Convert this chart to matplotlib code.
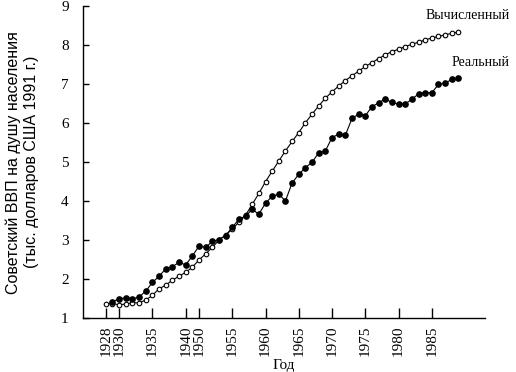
import numpy as np
import matplotlib
matplotlib.use("Agg")
import matplotlib.pyplot as plt

plt.rcParams['font.family'] = ['Liberation Serif', 'DejaVu Serif']

# years: 1928-1940, one war-time point, then 1950-1989
years_pre = list(range(1928, 1941))
years_post = list(range(1950, 1990))

# computed (open circles)
calc_years = years_pre + [1945] + years_post
calc_vals = [1.37, 1.38, 1.35, 1.37, 1.40, 1.40, 1.47, 1.59, 1.76, 1.85, 1.98, 2.08, 2.18,
             2.31,
             2.50, 2.65, 2.82, 3.00, 3.14, 3.28, 3.47, 3.64, 3.92, 4.20, 4.50, 4.77, 5.03,
             5.29, 5.53, 5.76, 6.01, 6.23, 6.44, 6.64, 6.80, 6.95, 7.09, 7.21, 7.33, 7.45,
             7.55, 7.65, 7.75, 7.83, 7.89, 7.96, 8.02, 8.07, 8.13, 8.18, 8.22, 8.26, 8.30,
             8.33]

# real (filled circles)
real_years = years_pre[1:] + [1945] + years_post
real_vals = [1.43, 1.50, 1.53, 1.50, 1.55, 1.70, 1.92, 2.08, 2.27, 2.32, 2.44, 2.37,
             2.60,
             2.85, 2.82, 2.97, 3.02, 3.12, 3.33, 3.54, 3.62, 3.79, 3.67, 3.95, 4.13, 4.18,
             4.01, 4.47, 4.69, 4.86, 5.00, 5.24, 5.29, 5.63, 5.72, 5.69, 6.12, 6.23, 6.19,
             6.42, 6.52, 6.62, 6.53, 6.49, 6.49, 6.61, 6.75, 6.78, 6.78, 6.99, 7.02, 7.12,
             7.15]

xticks = [1928, 1930, 1935, 1940, 1950, 1955, 1960, 1965, 1970, 1975, 1980, 1985]
yticks = [1, 2, 3, 4, 5, 6, 7, 8, 9]

# compressed axis: the 1940-1950 gap takes only two "years"
brk_in = [1900, 1940, 1945, 1950, 2000]
brk_out = [1900, 1940, 1941, 1942, 1992]


def fwd(x):
    return np.interp(x, brk_in, brk_out)


def inv(x):
    return np.interp(x, brk_out, brk_in)


fig = plt.figure(figsize=(5.16, 3.72), dpi=100)
ax = fig.add_axes([0.160, 0.144, 0.780, 0.840])
ax.set_xscale('function', functions=(fwd, inv))

ax.plot(calc_years, calc_vals, color='black', lw=0.8, marker='o', ms=3.3,
        mfc='white', mec='black', mew=0.8)
ax.plot(real_years, real_vals, color='black', lw=0.8, marker='o', ms=3.8,
        mfc='black', mec='black')

ax.set_xlim(1924.5, 1993)
ax.set_ylim(1, 9)
ax.set_xticks(xticks)
ax.set_xticklabels([str(y) for y in xticks], rotation=90, fontsize=11)
ax.set_yticks(yticks)
ax.set_yticklabels([str(v) for v in yticks], fontsize=11)
ax.tick_params(axis='x', direction='in', length=7, width=1, pad=5)
ax.tick_params(axis='y', direction='in', length=4, width=1, pad=10)
ax.minorticks_off()

for s in ['top', 'right']:
    ax.spines[s].set_visible(False)
for s in ['left', 'bottom']:
    ax.spines[s].set_linewidth(1)

ax.set_xlabel('Год', fontsize=11, labelpad=2)
ax.set_ylabel('Советский ВВП на душу населения\n(тыс. долларов США 1991 г.)',
              fontsize=11.5, labelpad=16, linespacing=1.25,
              family=['Liberation Sans', 'DejaVu Sans'])

ax.text(1.062, 0.971, 'Вычисленный', transform=ax.transAxes, ha='right',
        va='center', fontsize=10)
ax.text(1.062, 0.818, 'Реальный', transform=ax.transAxes, ha='right',
        va='center', fontsize=10)

fig.savefig('out.png', dpi=100)
plt.close(fig)
